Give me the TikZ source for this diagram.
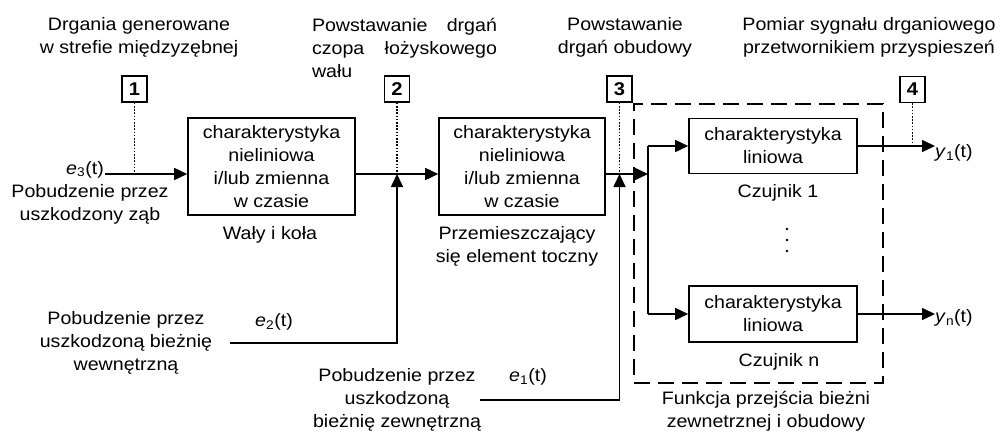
\documentclass[tikz,border=0pt]{standalone}
\usepackage{fontspec}
\setmainfont[FakeStretch=1.09]{Liberation Sans}
\usetikzlibrary{arrows.meta}
\begin{document}
\begin{tikzpicture}[x=1pt,y=-1pt,
  every node/.style={font=\fontsize{18}{23}\selectfont},
  block/.style={draw,line width=1.6pt,minimum width=167,minimum height=97,align=center,inner sep=0pt},
  sensor/.style={draw,line width=1.6pt,minimum width=168,minimum height=55,align=center,inner sep=0pt},
  numbox/.style={draw,line width=1.5pt,minimum width=25,minimum height=26,inner sep=0pt,font=\fontsize{18.5}{20}\selectfont\bfseries},
  sig/.style={line width=1.6pt},
  arr/.style={sig,-{Triangle[length=13pt,width=12pt]}},
  dotline/.style={line width=1.3pt,dash pattern=on 1.6pt off 1.6pt},
  grpbox/.style={draw,line width=1.6pt,dash pattern=on 16pt off 8pt,minimum width=249,minimum height=279,inner sep=0pt},
  lbl/.style={align=center,inner sep=0pt}]
\useasboundingbox (0,0) rectangle (1002,434);

% top labels
\node[lbl] (t1) at (139,37) {Drgania generowane\\w strefie międzyzębnej};
\node[lbl,align=left,text width=185] (t2) at (404.5,48) {Powstawanie\hfill drgań\\czopa\hfill łożyskowego\\wału};
\node[lbl] (t3) at (625,37) {Powstawanie\\drgań obudowy};
\node[lbl] (t4) at (869,37) {Pomiar sygnału drganiowego\\przetwornikiem przyspieszeń};

% number boxes
\node[numbox] (n1) at (134.5,89) {1};
\node[numbox] (n2) at (397,89) {2};
\node[numbox] (n3) at (619.5,89) {3};
\node[numbox] (n4) at (912.5,89.5) {4};

% blocks
\node[block] (b1) at (271.5,166.5) {charakterystyka\\nieliniowa\\i/lub zmienna\\w czasie};
\node[block,minimum width=166] (b2) at (522,166.5) {charakterystyka\\nieliniowa\\i/lub zmienna\\w czasie};
\node[grpbox] (grp) at (758.5,243.5) {};
\node[sensor] (s1) at (773,146) {charakterystyka\\liniowa};
\node[sensor,minimum height=56] (sn) at (773,314) {charakterystyka\\liniowa};

% other labels
\node[lbl,anchor=base east] (e3) at (104,174) {\textit{e}\textsubscript{3}(t)};
\node[lbl] (p3) at (90,204) {Pobudzenie przez\\uszkodzony ząb};
\node[lbl] (w1) at (270,235) {Wały i koła};
\node[lbl] (w2) at (517,246) {Przemieszczający\\się element toczny};
\node[lbl] (c1) at (778,193) {Czujnik 1};
\node[lbl] (cn) at (779,362) {Czujnik n};
\node[lbl] (p2) at (126,343) {Pobudzenie przez\\uszkodzoną bieżnię\\wewnętrzną};
\node[lbl] (e2) at (274,322) {\textit{e}\textsubscript{2}(t)};
\node[lbl] (p1) at (397,400) {Pobudzenie przez\\uszkodzoną\\bieżnię zewnętrzną};
\node[lbl] (e1) at (528,377) {\textit{e}\textsubscript{1}(t)};
\node[lbl] (fn) at (766,411) {Funkcja przejścia bieżni\\zewnetrznej i obudowy};
\node[lbl,anchor=west] (y1) at (935,153) {\textit{y}\textsubscript{1}(t)};
\node[lbl,anchor=west] (yn) at (935,318) {\textit{y}\textsubscript{n}(t)};

% vertical ellipsis
\fill (787,229) circle (1.4);
\fill (787,240) circle (1.4);
\fill (787,251) circle (1.4);

% coordinates
\coordinate (in3) at (105,174);
\coordinate (j1) at (134.5,174);
\coordinate (j2) at (397,174);
\coordinate (j3) at (619.5,174);
\coordinate (br) at (648,174);
\coordinate (in2) at (230,343);
\coordinate (in1) at (480,400);
\coordinate (o1) at (935,146);
\coordinate (on) at (935,314);
\coordinate (j4) at (912.5,146);

% connectors
\draw[arr] (in3) -- (b1.west |- in3);
\draw[arr] (b1.east |- j2) -- (b2.west |- j2);
\draw[arr] (b2.east |- j3) -- (br);
\draw[sig] (br |- s1.west) -- (br |- sn.west);
\draw[arr] (br |- s1.west) -- (s1.west);
\draw[arr] (br |- sn.west) -- (sn.west);
\draw[arr] (s1.east) -- (o1);
\draw[arr] (sn.east) -- (on);
\draw[arr] (in2) -| (j2);
\draw[arr] (in1) -| (j3);

\draw[dotline] (n1.south) -- (j1);
\draw[dotline] (n2.south) -- (j2);
\draw[dotline] (n3.south) -- (j3);
\draw[dotline] (n4.south) -- (j4);
\end{tikzpicture}
\end{document}
